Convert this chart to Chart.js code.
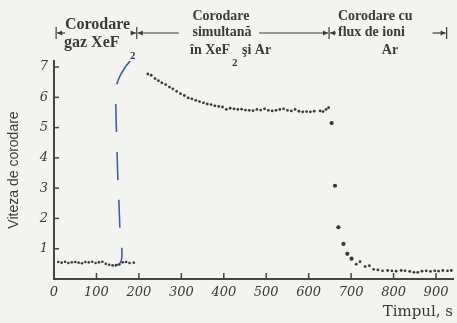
<!DOCTYPE html>
<html>
<head>
<meta charset="utf-8">
<script src="https://cdn.jsdelivr.net/npm/chart.js@4"></script>
<style>
  html, body { margin: 0; padding: 0; background: #f3f4f0; }
  #wrap { width: 457px; height: 323px; position: relative; }
</style>
</head>
<body>
<div id="wrap"><canvas id="chart" width="457" height="323"></canvas></div>
<script>
// etching with XeF2 gas only
const timeXeF2 = [10, 18, 26, 34, 42, 50, 58, 66, 74, 82, 90, 98, 106, 114, 122, 130, 138, 146, 154, 162, 170, 178, 188]
const rateXeF2 = [0.56, 0.54, 0.57, 0.53, 0.55, 0.56, 0.54, 0.52, 0.56, 0.55, 0.57, 0.53, 0.55, 0.57, 0.5, 0.47, 0.45, 0.46, 0.48, 0.55, 0.56, 0.53, 0.54]

// simultaneous etching in XeF2 and Ar
const timeMixed = [221, 229, 238, 246, 254, 263, 272, 280, 289, 298, 307, 316, 325, 334, 343, 352, 361, 370, 379, 388,
  397, 406, 415, 424, 433, 442, 451, 460, 469, 478, 487, 496, 505, 514, 523, 532, 541, 550, 559, 568,
  577, 586, 595, 604, 613, 627, 634, 641, 647]
const rateMixed = [6.77, 6.73, 6.62, 6.55, 6.48, 6.42, 6.34, 6.28, 6.2, 6.12, 6.06, 5.98, 5.95, 5.9, 5.86, 5.82, 5.78, 5.76, 5.72, 5.7,
  5.68, 5.6, 5.64, 5.62, 5.6, 5.61, 5.58, 5.57, 5.56, 5.6, 5.58, 5.62, 5.57, 5.55, 5.57, 5.6, 5.62, 5.57, 5.55, 5.6,
  5.54, 5.52, 5.53, 5.52, 5.54, 5.55, 5.53, 5.6, 5.66]

// etching with Ar ion flux
const timeIon = [654, 662, 670, 682, 691, 701, 712, 721, 733, 743, 753, 763, 774, 786, 796, 806, 818, 827, 838, 848,
  857, 867, 877, 887, 897, 906, 916, 927, 936]
const rateIon = [5.15, 3.08, 1.71, 1.16, 0.83, 0.67, 0.49, 0.57, 0.41, 0.44, 0.32, 0.3, 0.27, 0.28, 0.27, 0.26, 0.28, 0.27, 0.25, 0.22,
  0.22, 0.26, 0.27, 0.25, 0.27, 0.26, 0.28, 0.27, 0.28]

// blue pen mark drawn over the scan
const penTime = [181, 168, 152, 146, 146, 148, 150, 153, 156, 160, 157, 143]
const penRate = [7.23, 7.0, 6.6, 6.2, 5.5, 4.5, 3.5, 2.5, 1.5, 0.9, 0.55, 0.42]

const phaseEdges = [5, 195, 648, 925]
const xTicks = [100, 200, 300, 400, 500, 600, 700, 800, 900]
const yTicks = [1, 2, 3, 4, 5, 6, 7]

const ink = '#3a3a3a'
const toPoints = (xs, ys) => xs.map((x, i) => ({x: x, y: ys[i]}))

// small tick marks pointing into the plot, like in the book figure
const innerTicks = {
  id: 'innerTicks',
  afterDraw(chart){
    const {ctx, chartArea, scales} = chart
    ctx.save()
    ctx.strokeStyle = '#444'
    ctx.lineWidth = 1.5
    xTicks.forEach(v => {
      const px = scales.x.getPixelForValue(v)
      ctx.beginPath(); ctx.moveTo(px, chartArea.bottom); ctx.lineTo(px, chartArea.bottom - 6); ctx.stroke()
    })
    yTicks.forEach(v => {
      const py = scales.y.getPixelForValue(v)
      ctx.beginPath(); ctx.moveTo(chartArea.left, py); ctx.lineTo(chartArea.left + 5, py); ctx.stroke()
    })
    ctx.restore()
  }
}

function arrow(ctx, x1, x2, y){
  // line from x1 to x2 with head at x2
  const dir = x2 > x1 ? 1 : -1
  ctx.beginPath(); ctx.moveTo(x1, y); ctx.lineTo(x2, y); ctx.stroke()
  ctx.beginPath()
  ctx.moveTo(x2, y); ctx.lineTo(x2 - dir * 5, y - 2.5); ctx.lineTo(x2 - dir * 5, y + 2.5); ctx.closePath(); ctx.fill()
}

// phase labels above the plot
const phaseLabels = {
  id: 'phaseLabels',
  afterDraw(chart){
    const {ctx, scales} = chart
    const e = phaseEdges.map(v => scales.x.getPixelForValue(v))
    const ay = 33
    ctx.save()
    ctx.fillStyle = ink
    ctx.strokeStyle = ink
    ctx.lineWidth = 1.2
    e.forEach(px => { ctx.beginPath(); ctx.moveTo(px, ay - 6); ctx.lineTo(px, ay + 6); ctx.stroke() })
    arrow(ctx, e[0] + 9, e[0] + 1, ay)
    arrow(ctx, e[1] - 6, e[1] - 1, ay)
    arrow(ctx, e[1] + 42, e[1] + 1, ay)
    arrow(ctx, e[2] - 70, e[2] - 1, ay)
    arrow(ctx, e[2] + 7, e[2] + 1, ay)
    arrow(ctx, e[3] - 14, e[3] - 1, ay)

    ctx.textBaseline = 'middle'
    ctx.textAlign = 'left'
    ctx.font = 'bold 16px "Liberation Serif"'
    ctx.fillText('Corodare', 65, 25)
    ctx.fillText('gaz XeF', 64, 43)
    ctx.font = 'bold 11px "Liberation Serif"'
    ctx.fillText('2', 130, 56)

    ctx.font = 'bold 14px "Liberation Serif"'
    ctx.textAlign = 'center'
    ctx.fillText('Corodare', 221, 16)
    ctx.fillText('simultană', 222, 32)
    ctx.textAlign = 'left'
    ctx.fillText('în XeF', 190, 50)
    ctx.fillText('şi Ar', 242, 50)
    ctx.font = 'bold 11px "Liberation Serif"'
    ctx.fillText('2', 232, 63)

    ctx.font = 'bold 14px "Liberation Serif"'
    ctx.fillText('Corodare cu', 338, 16)
    ctx.fillText('flux de ioni', 338, 32)
    ctx.textAlign = 'center'
    ctx.fillText('Ar', 390, 50)
    ctx.restore()
  }
}

const tickFont = {family: '"DejaVu Serif"', style: 'italic', size: 13}

new Chart(document.getElementById('chart'), {
  type: 'scatter',
  data: {
    datasets: [
      {data: toPoints(timeXeF2, rateXeF2), pointRadius: 1.3, backgroundColor: ink, borderWidth: 0},
      {data: toPoints(timeMixed, rateMixed), pointRadius: 1.4, backgroundColor: ink, borderWidth: 0},
      {data: toPoints(timeIon, rateIon), pointRadius: ctx => ctx.raw && ctx.raw.y > 0.6 ? 2.1 : 1.4, backgroundColor: ink, borderWidth: 0},
      {data: toPoints(penTime, penRate), showLine: true, pointRadius: 0, borderColor: '#3f5fb0', borderWidth: 1.6,
        borderDash: [28, 20], tension: 0.4, fill: false}
    ]
  },
  options: {
    responsive: false,
    animation: false,
    devicePixelRatio: 1,
    layout: {padding: {top: 61, right: 1, left: 0, bottom: 0}},
    plugins: {legend: {display: false}, tooltip: {enabled: false}},
    scales: {
      x: {
        type: 'linear', min: 0, max: 940,
        grid: {display: false, drawTicks: false},
        border: {display: true, color: '#444', width: 2},
        ticks: {stepSize: 100, includeBounds: false, color: ink, font: tickFont, padding: 6, maxRotation: 0},
        title: {display: true, text: 'Timpul, s', align: 'end', color: ink,
          font: {family: '"DejaVu Serif"', size: 15}, padding: {top: 0, bottom: 2}},
        afterFit(scale){ scale.height = 44 }
      },
      y: {
        min: 0, max: 7.2,
        grid: {display: false, drawTicks: false},
        border: {display: true, color: '#444', width: 2},
        ticks: {stepSize: 1, includeBounds: false, color: ink, font: tickFont, padding: 6,
          callback: v => v === 0 ? '' : v},
        title: {display: true, text: 'Viteza de corodare', color: ink,
          font: {family: '"Liberation Sans"', size: 14}, padding: {top: 6, bottom: 0}},
        afterFit(scale){ scale.width = 54 }
      }
    }
  },
  plugins: [innerTicks, phaseLabels]
})
</script>
</body>
</html>
